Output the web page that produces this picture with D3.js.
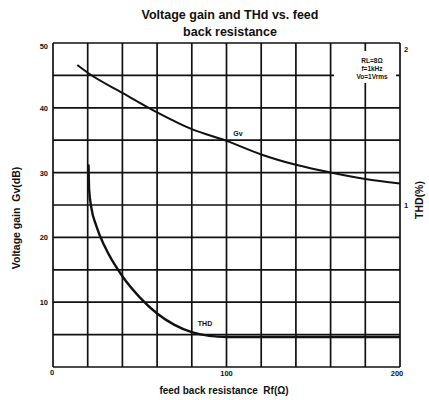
<!DOCTYPE html>
<html>
<head>
<meta charset="utf-8">
<script src="https://cdn.jsdelivr.net/npm/d3@7"></script>
<style>
	body { margin: 0; background: #fff; }
	text { font-family: "Liberation Sans", Arial, sans-serif; font-weight: bold; fill: #111; }
</style>
</head>
<body>
<div id="chart"></div>
<script>
// Data
let gvR = [14, 20, 40, 60, 80, 100, 120, 140, 160, 180, 200];
let gvDb = [46.6, 45.4, 42.3, 39.3, 36.7, 34.9, 32.8, 31.2, 30.0, 29.0, 28.3];

let thdR = [20.5, 20.8, 22, 25, 30, 40, 50, 60, 70, 80, 90, 100, 200];
let thdPct = [1.25, 1.1, 0.99, 0.87, 0.74, 0.56, 0.43, 0.33, 0.26, 0.215, 0.192, 0.185, 0.185];

let leftTicks = [0, 10, 20, 30, 40, 50];
let rightTicks = [1, 2];
let xTicks = [100, 200];
let notes = ['RL=8\u03A9', 'f=1kHz', 'Vo=1Vrms'];

let width = 429;
let height = 400;
let margin = {top: 43, right: 29, bottom: 33, left: 53};

let xScale = d3.scaleLinear()
		.domain([0, 200])
		.range([margin.left, width - margin.right]);

let yScale = d3.scaleLinear()
		.domain([0, 50])
		.range([height - margin.bottom, margin.top]);

let thdScale = d3.scaleLinear()
		.domain([0, 2])
		.range([height - margin.bottom, margin.top]);

let lineGen = d3.line()
		.curve(d3.curveMonotoneX);

let svg = d3.select('#chart')
		.append('svg')
		.attr('width', width)
		.attr('height', height);

// Title
svg.append('text')
		.attr('x', 230)
		.attr('y', 19)
		.attr('text-anchor', 'middle')
		.style('font-size', '12.5px')
		.text('Voltage gain and THd vs. feed');

svg.append('text')
		.attr('x', 230)
		.attr('y', 36)
		.attr('text-anchor', 'middle')
		.style('font-size', '12.5px')
		.text('back resistance');

// Grid: vertical every 20 ohm, horizontal every 5 dB
let grid = svg.append('g')
		.attr('stroke', '#111')
		.attr('stroke-width', 1.7);

grid.selectAll('.vx')
		.data(d3.range(0, 201, 20))
		.enter()
		.append('line')
		.attr('x1', d => xScale(d))
		.attr('x2', d => xScale(d))
		.attr('y1', yScale(0))
		.attr('y2', yScale(50));

grid.selectAll('.hy')
		.data(d3.range(0, 51, 5))
		.enter()
		.append('line')
		.attr('x1', xScale(0))
		.attr('x2', xScale(200))
		.attr('y1', d => yScale(d))
		.attr('y2', d => yScale(d));

// Condition box in the top right corner
svg.append('rect')
		.attr('x', 334)
		.attr('y', 51)
		.attr('width', 62)
		.attr('height', 32)
		.attr('fill', '#fff');

svg.selectAll('.note')
		.data(notes)
		.enter()
		.append('text')
		.attr('x', 372)
		.attr('y', (d, i) => 63 + i * 8)
		.attr('text-anchor', 'middle')
		.style('font-size', '6.5px')
		.text(d => d);

// Curves
svg.append('path')
		.attr('d', lineGen(gvR.map((r, i) => [xScale(r), yScale(gvDb[i])])))
		.attr('fill', 'none')
		.attr('stroke', '#111')
		.attr('stroke-width', 2);

svg.append('path')
		.attr('d', lineGen(thdR.map((r, i) => [xScale(r), thdScale(thdPct[i])])))
		.attr('fill', 'none')
		.attr('stroke', '#111')
		.attr('stroke-width', 2.4);

svg.append('text')
		.attr('x', 238)
		.attr('y', 136)
		.attr('text-anchor', 'middle')
		.style('font-size', '7px')
		.text('Gv');

svg.append('text')
		.attr('x', 205)
		.attr('y', 326)
		.attr('text-anchor', 'middle')
		.style('font-size', '7px')
		.text('THD');

// Tick labels
svg.selectAll('.ly')
		.data(leftTicks)
		.enter()
		.append('text')
		.attr('x', d => d === 0 ? 52 : 48)
		.attr('y', d => d === 0 ? yScale(d) + 8 : yScale(d) + 3 + (d === 50 ? 3 : 0))
		.attr('text-anchor', d => d === 0 ? 'middle' : 'end')
		.style('font-size', '7.5px')
		.text(d => d);

svg.selectAll('.ry')
		.data(rightTicks)
		.enter()
		.append('text')
		.attr('x', 404)
		.attr('y', d => thdScale(d) + 3 + (d === 2 ? 6 : 0))
		.style('font-size', '7.5px')
		.text(d => d);

svg.selectAll('.tx')
		.data(xTicks)
		.enter()
		.append('text')
		.attr('x', d => xScale(d) - (d === 200 ? 3 : 0))
		.attr('y', 376)
		.attr('text-anchor', 'middle')
		.style('font-size', '7.5px')
		.text(d => d);

// Axis titles
svg.append('text')
		.attr('x', 224)
		.attr('y', 394)
		.attr('text-anchor', 'middle')
		.style('font-size', '10px')
		.text('feed back resistance\u00A0\u00A0Rf(\u03A9)');

svg.append('text')
		.attr('transform', 'translate(20,218) rotate(-90)')
		.attr('text-anchor', 'middle')
		.style('font-size', '10.5px')
		.text('Voltage gain\u00A0\u00A0Gv(dB)');

svg.append('text')
		.attr('transform', 'translate(423,200) rotate(-90)')
		.attr('text-anchor', 'middle')
		.style('font-size', '10.5px')
		.text('THD(%)');
</script>
</body>
</html>
